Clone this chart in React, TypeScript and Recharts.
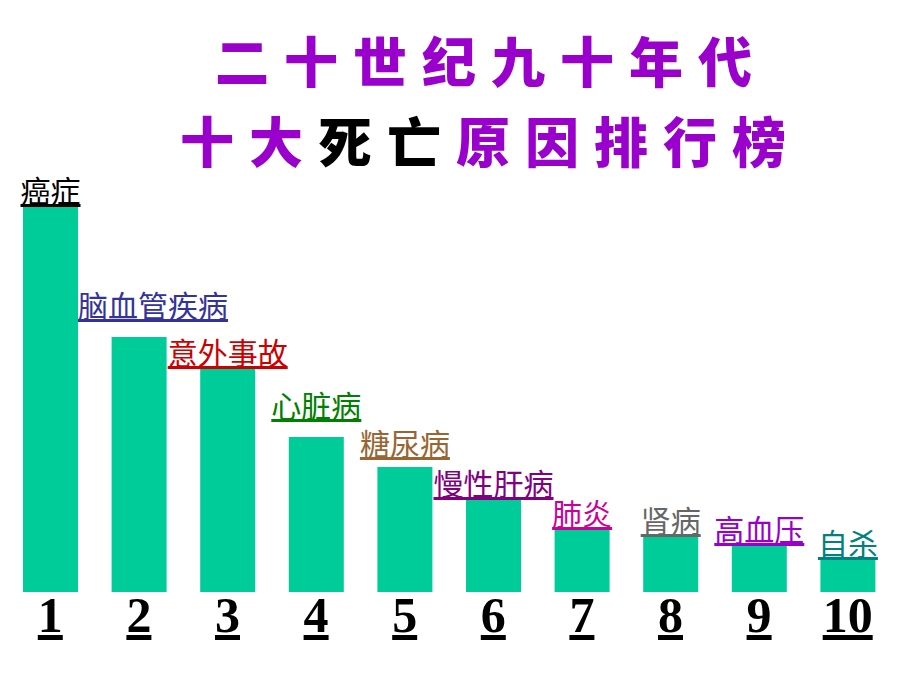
import React from "react";
import { BarChart, Bar, XAxis, YAxis, LabelList } from "recharts";

const ranks = ["1", "2", "3", "4", "5", "6", "7", "8", "9", "10"];
const causes = [
  "癌症",
  "脑血管疾病",
  "意外事故",
  "心脏病",
  "糖尿病",
  "慢性肝病",
  "肺炎",
  "肾病",
  "高血压",
  "自杀",
];
// relative bar heights as drawn in the picture (no axis in the original)
const heights = [385, 255, 223, 155, 125, 92, 62, 55, 46, 32];
const labelColors = [
  "#000000",
  "#333399",
  "#CC0000",
  "#008000",
  "#996633",
  "#800080",
  "#CC0099",
  "#666666",
  "#9900CC",
  "#008080",
];

const data = ranks.map((r, i) => ({ rank: r, cause: causes[i], value: heights[i] }));

const CJK = '"Noto Sans CJK SC", sans-serif';

// some labels sit a bit higher than their bar in the original
const labelLift = [0, 15, 0, 15, 7, 0, 0, 0, 0, 0];

const CauseLabel = (props: any) => {
  const { x, y, width, index, value } = props;
  const fs = 30;
  const w = String(value).length * fs;
  const gap = 33.6;
  let start = x + width / 2 - w / 2;
  if (index > 0 && start < x - gap) start = x - gap;
  return (
    <text
      x={start}
      y={y - 5 - labelLift[index]}
      fill={labelColors[index]}
      fontSize={fs}
      fontFamily={CJK}
      textDecoration="underline"
      textAnchor="start"
    >
      {value}
    </text>
  );
};

const RankTick = (props: any) => {
  const { x, y, payload } = props;
  return (
    <text
      x={x}
      y={y + 32}
      textAnchor="middle"
      fill="#000"
      fontSize={50}
      fontWeight="bold"
      fontFamily='"Liberation Serif", "Times New Roman", serif'
      textDecoration="underline"
    >
      {payload.value}
    </text>
  );
};

const titleStyle: React.CSSProperties = {
  position: "absolute",
  fontFamily: CJK,
  fontWeight: 900,
  fontSize: 54,
  lineHeight: "54px",
  letterSpacing: 15,
  color: "#9900CC",
  whiteSpace: "nowrap",
};

export default function App() {
  return (
    <div
      style={{
        position: "absolute",
        left: 0,
        top: 0,
        width: 920,
        height: 690,
        background: "#fff",
      }}
    >
      <div style={{ ...titleStyle, left: 215, top: 33 }}>二十世纪九十年代</div>
      <div style={{ ...titleStyle, left: 180, top: 113 }}>
        十大<span style={{ color: "#000" }}>死亡</span>原因排行榜
      </div>
      <div style={{ position: "absolute", left: 0, top: 0 }}>
        <BarChart
          width={920}
          height={690}
          data={data}
          margin={{ top: 207, right: 28, bottom: 38, left: 6 }}
          barSize={55}
        >
          <XAxis
            dataKey="rank"
            axisLine={false}
            tickLine={false}
            height={60}
            tick={<RankTick />}
            interval={0}
          />
          <YAxis hide domain={[0, 385]} />
          <Bar dataKey="value" fill="#00CC99" isAnimationActive={false}>
            <LabelList dataKey="cause" content={<CauseLabel />} />
          </Bar>
        </BarChart>
      </div>
    </div>
  );
}
